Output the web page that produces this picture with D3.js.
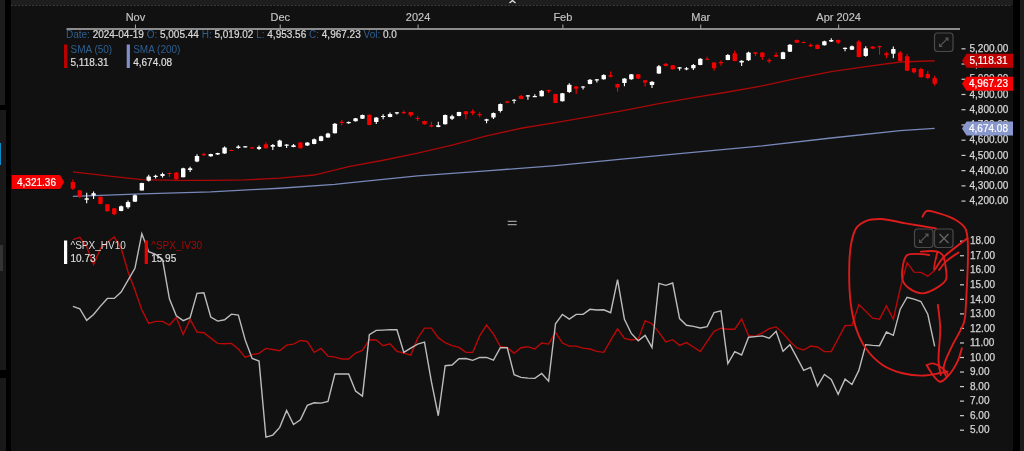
<!DOCTYPE HTML>
<html>
<head>
<meta charset="utf-8">
<title>SPX candles and volatility</title>
<script src="https://d3js.org/d3.v7.min.js"></script>
<style>
  html, body { margin: 0; padding: 0; background: #111; overflow: hidden; }
  svg { display: block; filter: blur(0.3px); font-family: "Liberation Sans", Arial, sans-serif; }
  .axis path.domain { stroke: none; }
  .axis line { stroke: #ccc; stroke-width: 1.2px; }
  .axis text { fill: #d4d4d4; font-size: 10px; stroke: #d4d4d4; stroke-width: 0.25px; }
  .month path.domain { stroke: #8c8c8c; stroke-width: 2px; }
  .month line { stroke: #aaa; stroke-width: 1px; }
  .month text { fill: #c4c4c4; stroke: #c4c4c4; stroke-width: 0.15px; font-size: 11px; }
  .lbl { font-size: 10px; }
  .val { stroke: #ddd; stroke-width: 0.2px; }
  .flag { fill: #fff; stroke: #fff; stroke-width: 0.2px; font-size: 10px; text-anchor: middle; }
</style>
</head>
<body>
<div id="chart"></div>
<script>
// 2023-10-19 .. 2024-04-19, one entry per session
var candleOpen = [4321.36,4268,4205,4233,4226,4176,4150,4132,4156,4193,4266,4331,4355,4362,4382,4384,4353,4401,4456,4506,4491,4502,4509,4533,4546,4552,4550,4539,4570,4554,4554,4561,4552,4581,4561,4572,4592,4614,4642,4718,4708,4721,4738,4764,4716,4750,4749,4773,4782,4782,4743,4723,4695,4684,4701,4738,4756,4786,4786,4769,4725,4745,4789,4852,4856,4889,4885,4883,4885,4926,4900,4852,4913,4950,4944,4966,4990,4996,5023,4966,4972,4996,5029,4990,4959,5034,5099,5088,5069,5062,5069,5091,5132,5106,5110,5123,5167,5106,5121,5174,5172,5123,5156,5130,5178,5255,5242,5222,5224,5220,5244,5255,5198,5191,5244,5150,5211,5215,5167,5165,5172,5147,5069,5064,5032,5005.44];
var candleClose = [4278,4226,4215,4248,4178,4130,4112,4163,4191,4235,4316,4358,4363,4375,4377,4340,4412,4412,4493,4502,4506,4513,4548,4528,4555,4557,4546,4552,4544,4565,4594,4568,4563,4544,4581,4603,4622,4640,4705,4710,4716,4740,4762,4697,4745,4756,4769,4780,4775,4760,4738,4701,4686,4695,4762,4754,4782,4767,4773,4760,4734,4775,4835,4843,4863,4867,4891,4887,4922,4920,4841,4905,4961,4935,4950,4994,4996,5025,5014,4942,5001,5029,5001,4975,4981,5082,5084,5062,5075,5069,5091,5132,5128,5069,5102,5156,5117,5119,5172,5165,5143,5115,5145,5174,5224,5237,5235,5215,5196,5246,5255,5237,5204,5213,5143,5200,5198,5211,5154,5196,5117,5053,5042,5010,5005,4967.23];
var candleHigh = [4339,4268,4252,4259,4226,4176,4150,4168,4200,4240,4318,4369,4369,4384,4384,4387,4415,4423,4504,4515,4508,4515,4555,4535,4564,4559,4552,4561,4583,4572,4599,4570,4572,4585,4583,4608,4625,4645,4710,4730,4719,4743,4765,4766,4747,4767,4778,4782,4791,4784,4754,4725,4717,4717,4765,4763,4784,4789,4800,4780,4737,4778,4838,4856,4865,4893,4893,4898,4926,4928,4902,4907,4970,4952,4952,4998,4998,5030,5048,4968,5003,5032,5032,4992,4983,5090,5103,5090,5077,5077,5097,5134,5145,5110,5121,5163,5185,5121,5178,5176,5174,5134,5172,5178,5228,5257,5244,5231,5226,5249,5266,5257,5206,5218,5253,5213,5213,5217,5178,5211,5182,5163,5071,5073,5051,5019.02];
var candleLow = [4270,4216,4182,4211,4175,4128,4103,4130,4147,4193,4266,4325,4345,4351,4355,4338,4353,4388,4452,4493,4488,4500,4507,4526,4540,4550,4544,4532,4540,4532,4552,4546,4550,4542,4559,4570,4590,4612,4640,4695,4704,4719,4736,4695,4703,4734,4747,4765,4769,4751,4723,4699,4682,4682,4699,4730,4754,4734,4760,4747,4708,4736,4778,4840,4838,4865,4863,4881,4883,4906,4840,4850,4906,4900,4930,4964,4975,4994,5010,4915,4951,4994,4998,4950,4940,5032,5082,5060,5055,5056,5058,5089,5126,5053,5086,5121,5115,5084,5117,5150,5123,5102,5143,5128,5176,5235,5233,5208,5194,5218,5242,5228,5180,5189,5141,5145,5196,5158,5134,5134,5115,5051,5034,5008,4999,4953.56];

var sma50Idx = [0,5,10,15,20,25,30,35,40,45,50,55,60,65,70,75,80,85,90,95,100,105,110,115,120,125];
var sma50Val = [4388,4362,4338,4333,4333,4336,4347,4368,4423,4465,4511,4565,4625,4675,4712,4751,4793,4837,4876,4913,4953,5003,5047,5080,5110,5118.31];
var sma200Idx = [0,10,20,30,38,40,50,60,70,80,88,100,110,120,125];
var sma200Val = [4228,4244,4257,4281,4307,4316,4362,4395,4430,4474,4509,4559,4611,4660,4674.08];

var hv10 = [13.48,13.32,12.52,12.93,13.5,14.03,14.03,14.47,15.29,16.1,18.48,17.24,17.06,16.72,14.0,12.84,12.5,12.7,14.38,14.42,12.75,12.47,12.56,12.95,12.88,11.16,9.9,9.72,4.49,4.63,5.16,6.33,5.36,5.68,6.67,6.85,6.83,6.94,8.83,8.83,8.83,7.66,7.31,11.53,11.83,11.85,11.88,11.88,10.32,10.61,10.89,11.03,8.3,5.96,9.4,9.45,9.88,9.9,9.77,9.97,9.97,9.79,10.64,10.64,8.78,8.6,8.55,8.53,8.87,8.34,12.29,12.93,12.61,12.93,12.93,13.28,13.23,13.25,13.05,15.32,12.59,11.62,11.12,11.49,10.66,15.06,14.93,15.09,12.64,12.18,12.11,12.0,12.09,13.06,13.17,9.54,10.37,10.14,11.36,11.4,11.45,11.29,11.77,10.39,10.85,9.98,9.08,9.29,8.0,8.8,8.46,7.43,8.48,8.11,9.08,10.85,10.8,10.78,11.72,11.49,13.29,14.11,13.98,13.82,12.94,10.73];
var iv30 = [18.07,18.23,17.59,16.37,17.47,17.89,18.25,17.47,15.87,14.61,13.23,12.31,12.45,12.45,12.2,12.72,11.55,12.59,11.72,11.67,11.3,10.94,10.91,10.94,10.55,9.97,10.16,10.25,10.59,10.52,10.43,10.82,10.89,11.14,11.07,10.32,10.59,10.06,9.99,9.86,9.86,10.27,10.45,11.19,11.17,10.78,10.91,10.39,10.27,10.13,11.28,11.99,11.99,11.33,10.98,10.78,10.66,10.32,10.32,11.46,12.2,11.58,10.71,10.66,10.25,10.64,10.71,10.55,10.96,10.89,11.69,10.96,10.75,10.75,10.61,10.55,10.39,10.32,11.14,11.94,11.28,11.17,11.23,12.5,12.29,11.69,11.03,11.19,10.8,10.99,10.69,10.37,11.08,11.77,11.98,11.91,11.91,12.62,11.47,11.43,11.66,11.95,12.07,11.63,11.08,10.62,10.48,10.76,10.69,10.37,10.37,11.26,12.16,12.18,13.61,13.15,12.67,12.6,13.52,12.6,14.71,16.5,15.84,15.82,15.56,15.95];

var monthIdx = [9,30,50,71,91,111];
var monthLabels = ["Nov","Dec","2024","Feb","Mar","Apr 2024"];
var priceTicks = [4200,4300,4400,4500,4600,4700,4800,4900,5000,5100,5200];
var volTicks = [5,6,7,8,9,10,11,12,13,14,15,16,17,18];

var infoLabels = ["Date: ","O: ","H: ","L: ","C: ","Vol: "];
var infoValues = ["2024-04-19","5,005.44","5,019.02","4,953.56","4,967.23","0.0"];

// hand drawn markup on the screenshot, in [session, vol] units
var inkStrokes = [
  [[125.17,18.85],[120.82,19.19],[117.2,19.49],[115,19.35],[113.6,18.85],[112.85,17.7],[112.6,15.87],[112.85,13.58],[113.6,11.97],[115,10.6],[117.44,9.45],[120.34,8.88],[123.24,8.72],[125.65,8.88],[126.86,9.0]],
  [[123.24,19.65],[123.82,20.04],[125.65,19.88],[128.07,19.42],[129.42,18.85],[129.76,18.16],[129.52,13.58],[129.28,12.43],[127.6,10.83],[126.52,9.68],[126.28,9.11],[126.72,8.65]],
  [[124.2,17.02],[121.06,17.02],[120.58,16.67],[120.34,15.3],[121.3,14.72],[123.24,14.38],[125.17,14.72],[126.62,15.3],[126.62,16.1],[126.14,17.02],[125.41,17.25],[123,17.25]],
  [[129.76,18.16],[126.14,16.79],[124.93,15.99],[125.41,17.25]],
  [[128.45,17.18],[126.62,16.56],[125.65,15.99]],
  [[125.46,13.58],[125.8,11.97],[125.56,9.68],[125.89,8.76]],
  [[123.96,9.45],[124.69,9.56],[126.14,9.22],[127,8.76]],
  [[123.82,9.45],[124.93,8.65],[125.8,8.3],[126.86,8.65],[128.3,9.68],[128.94,10.6]]
];

var width = 1024, height = 451;
var candleWidth = 4.4;

var x = d3.scaleLinear().domain([-1, 128.6]).range([66, 959.5]);
var yPrice = d3.scaleLinear().domain([4200, 5200]).range([200.6, 48.3]);
var yVol = d3.scaleLinear().domain([5, 18]).range([429.7, 240.7]);

var svg = d3.select("#chart").append("svg")
    .attr("width", width)
    .attr("height", height);

svg.append("rect").attr("width", width).attr("height", height).attr("fill", "#111");

// window chrome round the chart
var chrome = svg.append("g");
chrome.append("rect").attr("width", width).attr("height", 5).attr("fill", "#1e1e1e");
chrome.append("line").attr("x1", 11).attr("x2", 1012).attr("y1", 5.5).attr("y2", 5.5)
    .attr("stroke", "#3c3c3c").attr("stroke-dasharray", "2,1.5");
chrome.append("rect").attr("x", 0).attr("width", 11).attr("height", height).attr("fill", "#000");
chrome.append("rect").attr("y", 0).attr("width", 5).attr("height", 105).attr("fill", "#1c1c1c");
chrome.append("rect").attr("y", 110).attr("width", 6).attr("height", 260).attr("fill", "#191919");
chrome.append("rect").attr("y", 143).attr("width", 1).attr("height", 22).attr("fill", "#0a8ac8");
chrome.append("rect").attr("y", 245).attr("width", 3).attr("height", 26).attr("fill", "#333");
chrome.append("rect").attr("y", 378).attr("width", 6).attr("height", 73).attr("fill", "#191919");
chrome.append("rect").attr("x", 1013).attr("width", 7).attr("height", height).attr("fill", "#000");
chrome.append("rect").attr("x", 1020).attr("width", 4).attr("height", height).attr("fill", "#1c1c1c");

// little handle cut by the top edge
svg.append("path").attr("d", "M509.5,3L512.5,0.5L515.5,3").attr("fill", "none").attr("stroke", "#ddd").attr("stroke-width", 1.4);

// months
svg.append("g").attr("class", "axis month")
    .attr("transform", "translate(0,28.5)")
    .call(d3.axisTop(x).tickValues(monthIdx).tickFormat(function(d, i) { return monthLabels[i]; }).tickSizeInner(4).tickSizeOuter(0).tickPadding(4));

// price axis
svg.append("g").attr("class", "axis")
    .attr("transform", "translate(961.5,0)")
    .call(d3.axisRight(yPrice).tickValues(priceTicks).tickFormat(d3.format(",.2f")).tickSize(4).tickPadding(4));

// vol axis
svg.append("g").attr("class", "axis")
    .attr("transform", "translate(960,0)")
    .call(d3.axisRight(yVol).tickValues(volTicks).tickFormat(d3.format(".2f")).tickSize(4).tickPadding(6));

// moving averages
var smaLine = d3.line().x(function(d) { return x(d[0]); }).y(function(d) { return yPrice(d[1]); });
svg.append("path").datum(d3.zip(sma200Idx, sma200Val)).attr("d", smaLine)
    .attr("fill", "none").attr("stroke", "#7888b8").attr("stroke-width", 1.3);
svg.append("path").datum(d3.zip(sma50Idx, sma50Val)).attr("d", smaLine)
    .attr("fill", "none").attr("stroke", "#a80808").attr("stroke-width", 1.3);

// candles
var candles = svg.append("g").selectAll("g")
    .data(candleOpen.map(function(o, i) {
      return { i: i, open: o, close: candleClose[i], high: candleHigh[i], low: candleLow[i] };
    }))
    .enter().append("g")
    .attr("fill", function(d) { return d.close < d.open ? "#f50000" : "#fff"; })
    .attr("stroke", function(d) { return d.close < d.open ? "#f50000" : "#fff"; });

candles.append("line")
    .attr("x1", function(d) { return x(d.i); })
    .attr("x2", function(d) { return x(d.i); })
    .attr("y1", function(d) { return yPrice(d.high); })
    .attr("y2", function(d) { return yPrice(d.low); })
    .attr("stroke-width", 1.1);

candles.append("rect")
    .attr("x", function(d) { return x(d.i) - candleWidth / 2; })
    .attr("width", candleWidth)
    .attr("y", function(d) { return yPrice(Math.max(d.open, d.close)); })
    .attr("height", function(d) { return Math.max(1.2, Math.abs(yPrice(d.open) - yPrice(d.close))); })
    .attr("rx", 0.6)
    .attr("stroke", "none");

// vol lines
var volLine = d3.line().x(function(d, i) { return x(i); }).y(function(d) { return yVol(d); });
svg.append("path").datum(iv30).attr("d", volLine)
    .attr("fill", "none").attr("stroke", "#b80808").attr("stroke-width", 1.4);
svg.append("path").datum(hv10).attr("d", volLine)
    .attr("fill", "none").attr("stroke", "#bcbcbc").attr("stroke-width", 1.4);

// info line
var info = svg.append("text").attr("class", "lbl").attr("x", 66).attr("y", 37.5);
infoLabels.forEach(function(l, i) {
  info.append("tspan").attr("fill", "#2f5f90").text(l);
  info.append("tspan").attr("class", "val").attr("fill", "#d8d8d8").text(infoValues[i] + " ");
});

// legends
function legend(xPos, yTop, color, labelColor, name, value) {
  svg.append("rect").attr("x", xPos).attr("y", yTop).attr("width", 3.2).attr("height", 23.5).attr("fill", color);
  svg.append("text").attr("class", "lbl").attr("x", xPos + 6.5).attr("y", yTop + 8.5).attr("fill", labelColor).text(name);
  svg.append("text").attr("class", "lbl val").attr("x", xPos + 6.5).attr("y", yTop + 21.5).attr("fill", "#ddd").text(value);
}
legend(64, 44.5, "#b80000", "#2f5f90", "SMA (50)", d3.format(",.2f")(sma50Val[sma50Val.length - 1]));
legend(126.7, 44.5, "#8090c8", "#2f5f90", "SMA (200)", d3.format(",.2f")(sma200Val[sma200Val.length - 1]));
legend(64, 240.5, "#fff", "#ddd", "^SPX_HV10", d3.format(".2f")(hv10[hv10.length - 1]));
legend(144.7, 240.5, "#f00000", "#a80808", "^SPX_IV30", d3.format(".2f")(iv30[iv30.length - 1]));

// price flags, on top of the axis labels
function rightFlag(value, color) {
  var cy = yPrice(value);
  svg.append("path")
      .attr("d", "M962," + cy + "L966.5," + (cy - 7) + "H1013V" + (cy + 7) + "H966.5Z")
      .attr("fill", color);
  svg.append("text").attr("class", "flag").attr("x", 988.5).attr("y", cy + 3.5).text(d3.format(",.2f")(value));
}
rightFlag(sma50Val[sma50Val.length - 1], "#c00000");
rightFlag(candleClose[candleClose.length - 1], "#f50000");
rightFlag(sma200Val[sma200Val.length - 1], "#8898cc");

var leftY = yPrice(candleOpen[0]);
svg.append("path")
    .attr("d", "M11.7," + (leftY - 7) + "H60L64.3," + leftY + "L60," + (leftY + 7) + "H11.7Z")
    .attr("fill", "#f50000");
svg.append("text").attr("class", "flag").attr("x", 36.5).attr("y", leftY + 3.5).text(d3.format(",.2f")(candleOpen[0]));

// pane divider
svg.append("path").attr("d", "M507.7,221.3H516.7M507.7,224.7H516.7").attr("stroke", "#bbb").attr("stroke-width", 1);

// pane buttons
function button(bx, by) {
  return svg.append("rect").attr("x", bx).attr("y", by).attr("width", 18.5).attr("height", 18.5).attr("rx", 3)
      .attr("fill", "#151515").attr("stroke", "#4a4a4a").attr("stroke-width", 1.2);
}
function expandIcon(bx, by) {
  button(bx, by);
  var a = bx + 5, b = by + 13.5, c = bx + 13.5, e = by + 5;
  svg.append("path")
      .attr("d", "M" + a + "," + b + "L" + c + "," + e + "M" + (c - 3) + "," + e + "H" + c + "V" + (e + 3) + "M" + a + "," + (b - 3) + "V" + b + "H" + (a + 3))
      .attr("fill", "none").attr("stroke", "#555").attr("stroke-width", 1.1);
}
expandIcon(934.5, 33);
expandIcon(914.5, 229);
button(934.5, 229);
svg.append("path").attr("d", "M939.5,234L948.5,243M948.5,234L939.5,243").attr("stroke", "#666").attr("stroke-width", 1.3);

// red markup
var inkLine = d3.line().x(function(d) { return x(d[0]); }).y(function(d) { return yVol(d[1]); }).curve(d3.curveCatmullRom);
svg.append("g").selectAll("path").data(inkStrokes).enter().append("path")
    .attr("d", inkLine)
    .attr("fill", "none")
    .attr("stroke", "#dc1c1c")
    .attr("stroke-width", 1.9)
    .attr("stroke-linecap", "round");
</script>
</body>
</html>
